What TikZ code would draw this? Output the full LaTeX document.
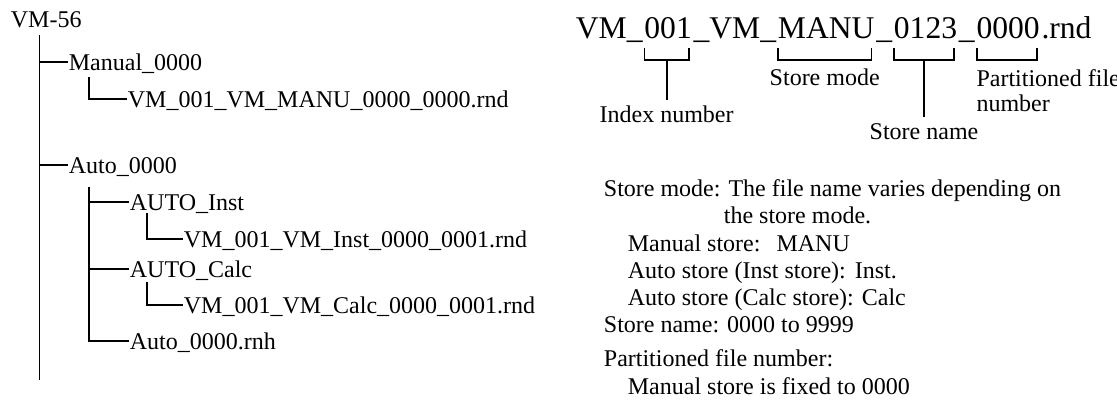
\documentclass[tikz,border=0pt]{standalone}
\usepackage{fontspec}
\setmainfont{Liberation Serif}
\begin{document}
\begin{tikzpicture}[x=0.5pt, y=-0.5pt, line width=0.9pt,
  tree/.style={anchor=west, inner sep=0pt, text height=9.5pt, text depth=1.5pt, font=\fontsize{12}{14}\selectfont},
  ttl/.style={anchor=base west, inner sep=0pt, font=\fontsize{15.8}{18}\selectfont},
  lbl/.style={inner sep=1.5pt, text height=9.5pt, text depth=0pt, font=\fontsize{12}{14}\selectfont},
  note/.style={anchor=base west, inner sep=0pt, font=\fontsize{12}{14}\selectfont}]
\useasboundingbox (0,0) rectangle (1117,403);
% folder tree
\node[tree] (root) at (10,19) {VM-56};
\node[tree] (man) at (68,62) {Manual\_0000};
\node[tree] (manf) at (127,99) {VM\_001\_VM\_MANU\_0000\_0000.rnd};
\node[tree] (auto) at (68,165) {Auto\_0000};
\node[tree] (inst) at (129,202) {AUTO\_Inst};
\node[tree] (instf) at (183,239) {VM\_001\_VM\_Inst\_0000\_0001.rnd};
\node[tree] (calc) at (129,269) {AUTO\_Calc};
\node[tree] (calcf) at (183,305) {VM\_001\_VM\_Calc\_0000\_0001.rnd};
\node[tree] (rnh) at (129,341) {Auto\_0000.rnh};
\coordinate (t0) at (39.5,35);
\coordinate (tend) at (39.5,380);
\coordinate (t1) at (89,77);
\coordinate (t2) at (89,187);
\coordinate (t3) at (147,213);
\coordinate (t4) at (147,282);
\draw (t0) -- (tend);
\draw (t0) |- (man.west);
\draw (t0) |- (auto.west);
\draw (t1) |- (manf.west);
\draw (t2) |- (inst.west);
\draw (t2) |- (calc.west);
\draw (t2) |- (rnh.west);
\draw (t3) |- (instf.west);
\draw (t4) |- (calcf.west);
% file name
\node[ttl] (v1) at (575,38) {VM\_};
\node[ttl] (n1) at (v1.base east) {001};
\node[ttl] (v2) at (n1.base east) {\_VM\_};
\node[ttl] (n2) at (v2.base east) {MANU};
\node[ttl] (v3) at (n2.base east) {\_};
\node[ttl] (n3) at (v3.base east) {0123};
\node[ttl] (v4) at (n3.base east) {\_};
\node[ttl] (n4) at (v4.base east) {0000};
\node[ttl] (v5) at (n4.base east) {.rnd};
\draw ([shift={(1,10)}]n1.base west) |- ([shift={(-4,22)}]n1.base east) -- ++(0,-12);
\draw ([shift={(1,10)}]n2.base west) |- ([shift={(-4,22)}]n2.base east) -- ++(0,-12);
\draw ([shift={(1,10)}]n3.base west) |- ([shift={(-4,22)}]n3.base east) -- ++(0,-12);
\draw ([shift={(1,10)}]n4.base west) |- ([shift={(-4,22)}]n4.base east) -- ++(0,-12);
\node[lbl, anchor=north] (lidx) at ([shift={(-1.5,62)}]n1.base) {Index number};
\node[lbl, anchor=north] (lmode) at ([shift={(-1.5,25)}]n2.base) {Store mode};
\node[lbl, anchor=north] (lname) at ([shift={(-1.5,79)}]n3.base) {Store name};
\node[anchor=north west, inner sep=0pt, align=left, font=\fontsize{12}{12.5}\selectfont] (lpart) at ([shift={(0,30.5)}]n4.base west) {Partitioned file\\number};
\draw ([shift={(-1.5,22)}]n1.base) -- (lidx.north);
\draw ([shift={(-1.5,22)}]n3.base) -- (lname.north);
% notes
\node[note] (s1) at (603,196) {Store mode: The file name varies depending on};
\node[note] (s2) at (723,223) {the store mode.};
\node[note] (s3) at (627,251) {Manual store:\hspace{8pt}MANU};
\node[note] (s4) at (627,278) {Auto store (Inst store):\hspace{4.5pt}Inst.};
\node[note] (s5) at (627,305) {Auto store (Calc store): Calc};
\node[note] (s6) at (603,332) {Store name: 0000 to 9999};
\node[note] (s7) at (603,366) {Partitioned file number:};
\node[note] (s8) at (627,394) {Manual store is fixed to 0000};
\end{tikzpicture}
\end{document}
